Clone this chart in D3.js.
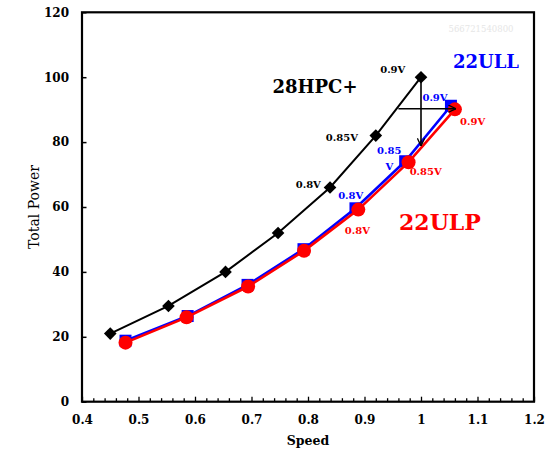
<!DOCTYPE html>
<html><head><meta charset="utf-8">
<script src="https://cdn.jsdelivr.net/npm/d3@7"></script>
<style>body{margin:0;background:#fff}svg{display:block}</style>
</head><body>
<svg id="c" width="545" height="450"></svg>
<script>
// ---- data ----
const hpcSpeed = [0.45, 0.553, 0.654, 0.747, 0.839, 0.92, 1.0];
const hpcPower = [21.0, 29.5, 40.0, 52.0, 66.0, 82.0, 100.0];
const ullSpeed = [0.477, 0.587, 0.693, 0.792, 0.884, 0.972, 1.053];
const ullPower = [18.8, 26.4, 36.0, 47.0, 59.6, 74.1, 91.2];
const ulpSpeed = [0.477, 0.585, 0.694, 0.793, 0.889, 0.978, 1.060];
const ulpPower = [18.2, 26.0, 35.5, 46.5, 59.2, 73.8, 90.1];
const xTicks = [0.4, 0.5, 0.6, 0.7, 0.8, 0.9, 1, 1.1, 1.2];
const xTickLabels = ["0.4", "0.5", "0.6", "0.7", "0.8", "0.9", "1", "1.1", "1.2"];
const yTicks = [0, 20, 40, 60, 80, 100, 120];
const seriesNames = ["28HPC+", "22ULL", "22ULP"];
// voltage annotations: [text, speed, power, series]
const voltLabels = [
  ["0.9V", 0.950, 102.4, 0],
  ["0.85V", 0.860, 81.5, 0],
  ["0.8V", 0.8005, 67.0, 0],
  ["0.9V", 1.0248, 93.7, 1],
  ["0.85", 0.9439, 77.5, 1],
  ["V", 0.9439, 72.6, 1],
  ["0.8V", 0.8756, 63.5, 1],
  ["0.9V", 1.0915, 86.5, 2],
  ["0.85V", 1.0083, 70.9, 2],
  ["0.8V", 0.8873, 52.9, 2]
];
// series name positions: [speed, power]
const namePos = [[0.8124, 97.0], [1.115, 104.8], [1.0336, 55.5]];
// arrows: [x1, y1, x2, y2]
const arrows = [
  [1.0, 100, 1.0, 78.8],
  [0.96, 90.3, 1.062, 90.3]
];
const watermark = "566721540800";

// ---- layout ----
const svg = d3.select("#c");
const L = 82, R = 534, T = 12.3, B = 401.7;
const x = d3.scaleLinear().domain([0.4, 1.2]).range([L, R]);
const y = d3.scaleLinear().domain([0, 120]).range([B, T]);
const font = "'DejaVu Serif', serif";
const colors = ["#000000", "#0000ff", "#ff0000"];
const nameSizes = [18, 18, 22];

// watermark
svg.append("text").attr("x", 481).attr("y", 32).attr("text-anchor", "middle")
  .attr("font-family", font).attr("font-size", 8.5).attr("fill", "#e6e6e6").text(watermark);

// x axis
const xMinor = d3.range(0.42, 1.2, 0.02).filter(v => Math.abs(v * 10 - Math.round(v * 10)) > 1e-6);
const gxMinor = svg.append("g").attr("transform", `translate(0,${B})`)
  .call(d3.axisBottom(x).tickValues(xMinor).tickSizeInner(-3.5).tickSizeOuter(0).tickFormat(""));
gxMinor.select(".domain").remove();
gxMinor.selectAll("line").attr("stroke", "#000").attr("stroke-width", 1.3);
const gx = svg.append("g").attr("transform", `translate(0,${B})`)
  .call(d3.axisBottom(x).tickValues(xTicks).tickSizeInner(-5).tickSizeOuter(0).tickPadding(14)
    .tickFormat((d, i) => xTickLabels[i]));
gx.select(".domain").remove();
gx.selectAll("line").attr("stroke", "#000").attr("stroke-width", 1.3);
gx.selectAll("text").attr("font-family", font).attr("font-size", 12).attr("font-weight", "bold").attr("fill", "#000");

// y axis
const gy = svg.append("g").attr("transform", `translate(${L},0)`)
  .call(d3.axisLeft(y).tickValues(yTicks).tickSizeInner(-4.5).tickSizeOuter(0).tickPadding(13));
gy.select(".domain").remove();
gy.selectAll("line").attr("stroke", "#000").attr("stroke-width", 1.5);
gy.selectAll("text").attr("font-family", font).attr("font-size", 12).attr("font-weight", "bold").attr("fill", "#000");

// frame
svg.append("rect").attr("x", L).attr("y", T).attr("width", R - L).attr("height", B - T)
  .attr("fill", "none").attr("stroke", "#000").attr("stroke-width", 2.2);

// axis titles
svg.append("text").attr("x", (L + R) / 2).attr("y", 445).attr("text-anchor", "middle")
  .attr("font-family", font).attr("font-size", 12.5).attr("font-weight", "bold").text("Speed");
svg.append("text").attr("transform", `translate(39,${(T + B) / 2}) rotate(-90)`).attr("text-anchor", "middle")
  .attr("font-family", font).attr("font-size", 14).text("Total Power");

// series
const line = d3.line().x(d => x(d[0])).y(d => y(d[1]));
const hpc = hpcSpeed.map((s, i) => [s, hpcPower[i]]);
const ull = ullSpeed.map((s, i) => [s, ullPower[i]]);
const ulp = ulpSpeed.map((s, i) => [s, ulpPower[i]]);

svg.append("path").datum(hpc).attr("d", line).attr("fill", "none").attr("stroke", colors[0]).attr("stroke-width", 2);
svg.selectAll(".dia").data(hpc).join("path").attr("class", "dia")
  .attr("transform", d => `translate(${x(d[0])},${y(d[1])}) rotate(45)`)
  .attr("d", d3.symbol(d3.symbolSquare, 80)()).attr("fill", colors[0]);

svg.append("path").datum(ull).attr("d", line).attr("fill", "none").attr("stroke", colors[1]).attr("stroke-width", 2.6);
svg.selectAll(".sq").data(ull).join("path").attr("class", "sq")
  .attr("transform", d => `translate(${x(d[0])},${y(d[1])})`)
  .attr("d", d3.symbol(d3.symbolSquare, 144)()).attr("fill", colors[1]);

svg.append("path").datum(ulp).attr("d", line).attr("fill", "none").attr("stroke", colors[2]).attr("stroke-width", 2.6);
svg.selectAll(".cir").data(ulp).join("circle").attr("class", "cir")
  .attr("cx", d => x(d[0])).attr("cy", d => y(d[1])).attr("r", 7).attr("fill", colors[2]);

// arrows
svg.append("defs").append("marker").attr("id", "ah").attr("viewBox", "0 0 10 10")
  .attr("refX", 9.5).attr("refY", 5).attr("markerWidth", 8).attr("markerHeight", 8)
  .attr("markerUnits", "userSpaceOnUse").attr("orient", "auto")
  .append("path").attr("d", "M0,0.5 L9.5,5 L0,9.5").attr("fill", "none").attr("stroke", "#000").attr("stroke-width", 1.6);
svg.selectAll(".arr").data(arrows).join("line").attr("class", "arr")
  .attr("x1", d => x(d[0])).attr("y1", d => y(d[1])).attr("x2", d => x(d[2])).attr("y2", d => y(d[3]))
  .attr("stroke", "#000").attr("stroke-width", 1.6).attr("marker-end", "url(#ah)");

// voltage labels
svg.selectAll(".vl").data(voltLabels).join("text").attr("class", "vl")
  .attr("x", d => x(d[1])).attr("y", d => y(d[2])).attr("dy", "0.35em").attr("text-anchor", "middle")
  .attr("font-family", font).attr("font-size", 10).attr("font-weight", "bold")
  .attr("fill", d => colors[d[3]]).text(d => d[0]);

// series name labels
svg.selectAll(".nl").data(seriesNames).join("text").attr("class", "nl")
  .attr("x", (d, i) => x(namePos[i][0])).attr("y", (d, i) => y(namePos[i][1])).attr("dy", "0.36em")
  .attr("text-anchor", "middle")
  .attr("font-family", font).attr("font-size", (d, i) => nameSizes[i]).attr("font-weight", "bold")
  .attr("fill", (d, i) => colors[i]).text(d => d);
</script>
</body></html>
